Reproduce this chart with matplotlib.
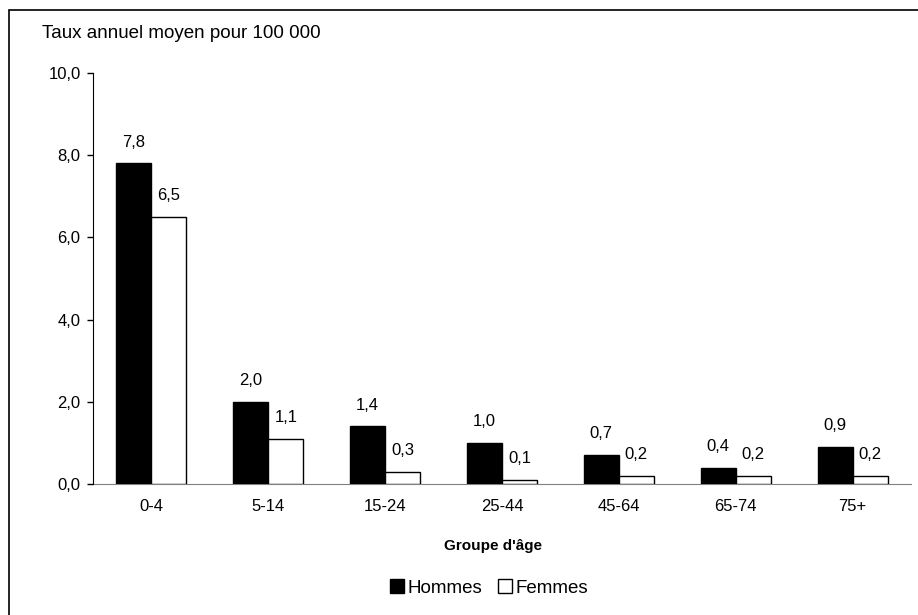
import numpy as np
import matplotlib.pyplot as plt
from matplotlib.patches import Rectangle, Patch

# ── Data ──────────────────────────────────────────────────────────────────────
GROUPS  = ["0-4", "5-14", "15-24", "25-44", "45-64", "65-74", "75+"]
HOMMES  = [7.8, 2.0, 1.4, 1.0, 0.7, 0.4, 0.9]
FEMMES  = [6.5, 1.1, 0.3, 0.1, 0.2, 0.2, 0.2]
YTICKS  = [0, 2, 4, 6, 8, 10]

plt.rcParams.update({
    "font.family": ["Liberation Sans", "DejaVu Sans"],
    "font.size":   12,
})

W, H = 918, 615
fig = plt.figure(figsize=(W / 100, H / 100), dpi=100)
fig.patch.set_facecolor("white")

# outer frame (cropped on right/bottom like the reference)
fig.add_artist(Rectangle((9 / W, -0.1), 1.2, 1 - 10 / H + 0.1,
                         transform=fig.transFigure, fill=False,
                         edgecolor="black", linewidth=1.2))

ax = fig.add_axes([93 / W, 1 - 484 / H, (911 - 93) / W, (484 - 73) / H])

x = np.arange(len(GROUPS))
bw = 0.3
ax.bar(x - bw / 2, HOMMES, width=bw, color="black", edgecolor="black",
       linewidth=1.0, label="Hommes")
ax.bar(x + bw / 2, FEMMES, width=bw, color="white", edgecolor="black",
       linewidth=1.0, label="Femmes")

def fmt(v):
    return f"{v:.1f}".replace(".", ",")

for xi, v in zip(x, HOMMES):
    ax.annotate(fmt(v), (xi - bw / 2, v), xytext=(0, 10), textcoords="offset points",
                ha="center", va="bottom", fontsize=12)
for xi, v in zip(x, FEMMES):
    ax.annotate(fmt(v), (xi + bw / 2, v), xytext=(0, 10), textcoords="offset points",
                ha="center", va="bottom", fontsize=12)

ax.set_xlim(-0.5, 6.5)
ax.set_ylim(0, 10)
ax.set_yticks(YTICKS)
ax.set_yticklabels([fmt(v) for v in YTICKS], fontsize=12)
ax.set_xticks(x)
ax.set_xticklabels(GROUPS, fontsize=12)
ax.tick_params(axis="x", length=0, pad=11)
ax.tick_params(axis="y", length=4, width=1.0, direction="out", pad=5)

for s in ["top", "right"]:
    ax.spines[s].set_visible(False)
ax.spines["left"].set_color("black")
ax.spines["bottom"].set_color("#808080")
ax.spines["bottom"].set_zorder(0)

fig.text(42 / W, 1 - 33 / H, "Taux annuel moyen pour 100 000",
         ha="left", va="center", fontsize=13.5)
fig.text(493 / W, 1 - 546 / H, "Groupe d'âge", ha="center", va="center",
         fontsize=11, fontweight="bold")

handles = [Patch(facecolor="black", edgecolor="black", label="Hommes"),
           Patch(facecolor="white", edgecolor="black", label="Femmes")]
fig.legend(handles=handles, loc="center", bbox_to_anchor=(489 / W, 1 - 588 / H),
           ncol=2, frameon=False, fontsize=13.5, handlelength=0.75, handleheight=0.75,
           handletextpad=0.2, columnspacing=0.8)

fig.savefig("out.png", dpi=100, facecolor="white")
